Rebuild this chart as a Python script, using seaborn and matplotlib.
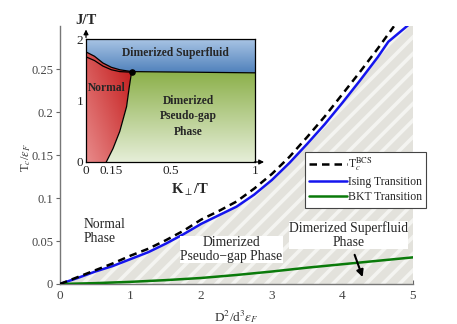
import numpy as np
import matplotlib
matplotlib.use('Agg')
from matplotlib import pyplot as plt
from matplotlib.patches import Polygon
import seaborn as sns

# main panel: transition temperatures vs D^2/(d^3 eps_F)
x_bcs = [0, 0.25, 0.5, 0.75, 1, 1.25, 1.5, 1.75, 2, 2.25, 2.5, 2.75, 3, 3.25, 3.5, 3.75, 4, 4.25, 4.5, 4.73]
t_bcs = [0, 0.008, 0.016, 0.024, 0.033, 0.041, 0.051, 0.062, 0.075, 0.085, 0.096, 0.111, 0.128, 0.148,
         0.171, 0.195, 0.221, 0.247, 0.274, 0.300]
x_ising = [0, 0.25, 0.5, 0.75, 1, 1.25, 1.5, 1.75, 2, 2.25, 2.5, 2.75, 3, 3.25, 3.5, 3.75, 4, 4.25, 4.5, 4.65, 5]
t_ising = [0, 0.007, 0.0145, 0.021, 0.029, 0.037, 0.047, 0.058, 0.070, 0.080, 0.090, 0.104, 0.121, 0.141,
           0.163, 0.186, 0.211, 0.237, 0.264, 0.282, 0.306]
x_bkt = [0, 0.5, 1, 1.5, 2, 2.5, 3, 3.5, 4, 4.5, 5]
t_bkt = [0, 0.001, 0.0025, 0.0045, 0.007, 0.0105, 0.0145, 0.019, 0.023, 0.027, 0.031]
y_ticks = [0, 0.05, 0.1, 0.15, 0.2, 0.25]
y_tick_labels = ['0', '0.05', '0.1', '0.15', '0.2', '0.25']

# inset: phase diagram in (K_perp/T, J/T)
upper_k = [0, 0.05, 0.10, 0.15, 0.20, 0.27]
upper_j = [1.79, 1.72, 1.61, 1.54, 1.50, 1.47]
lower_k = [0, 0.05, 0.10, 0.15, 0.20, 0.27]
lower_j = [1.71, 1.65, 1.56, 1.50, 1.47, 1.46]
edge_k = [0.12, 0.16, 0.20, 0.24, 0.255, 0.27]
edge_j = [0, 0.22, 0.5, 0.9, 1.2, 1.47]
flat_k = [0.27, 1]
flat_j = [1.47, 1.45]
inset_xticks = [0, 0.15, 0.5, 1]
inset_xlabels = ['0', '0.15', '0.5', '1']

sns.set_style('ticks')
plt.rcParams['font.family'] = ['Liberation Serif', 'DejaVu Serif']
plt.rcParams['mathtext.fontset'] = 'stix'
plt.rcParams['hatch.linewidth'] = 2.6

fig = plt.figure(figsize=(4.57, 3.24), dpi=100)
ax = fig.add_axes([0.1313, 0.1235, 0.7724, 0.7953])

# hatched region below the Ising line
ax.fill_between(x_ising, 0, t_ising, facecolor='#e3e2dc', edgecolor='#f4f4f1', hatch='//', linewidth=0, zorder=1)

sns.lineplot(x=x_ising, y=t_ising, ax=ax, color='#1515ee', lw=1.8, zorder=3, sort=False)
sns.lineplot(x=x_bcs, y=t_bcs, ax=ax, color='black', lw=1.8, linestyle=(0, (3, 2)), zorder=4, sort=False)
sns.lineplot(x=x_bkt, y=t_bkt, ax=ax, color='#0a7a0a', lw=1.8, zorder=3, sort=False)

ax.set_xlim(0, 5)
ax.set_ylim(0, 0.30)
ax.set_yticks(y_ticks)
ax.set_yticklabels(y_tick_labels)
ax.set_xticks([0, 1, 2, 3, 4, 5])
ax.tick_params(axis='y', direction='out', length=3, width=0.8, colors='#666666', labelcolor='#444444',
               labelsize=9, pad=2)
ax.tick_params(axis='x', direction='in', length=3, width=0.8, colors='#666666', labelcolor='#444444',
               labelsize=9.5, pad=4)
for s in ['top', 'right']:
    ax.spines[s].set_visible(False)
for s in ['left', 'bottom']:
    ax.spines[s].set_color('#777777')
    ax.spines[s].set_linewidth(1)

ax.set_ylabel(r'T$_c$/$\varepsilon_F$', fontsize=9, color='#333333')
ax.yaxis.set_label_coords(-0.077, 0.49)
ax.set_xlabel(r'D$^2$/d$^3\varepsilon_F$', fontsize=9.5, color='#333333')
ax.xaxis.set_label_coords(0.5, -0.095)

ax.text(0.33, 0.061, 'Normal\nPhase', fontsize=9.8, ha='left', va='center', linespacing=1.15, zorder=5)
ax.text(2.43, 0.040, 'Dimerized\nPseudo\u2212gap Phase', fontsize=9.8, ha='center', va='center',
        linespacing=1.1, zorder=5, bbox=dict(facecolor='white', edgecolor='none', pad=0.1))
ax.text(4.09, 0.057, 'Dimerized Superfluid\nPhase', fontsize=9.8, ha='center', va='center',
        linespacing=1.1, zorder=5, bbox=dict(facecolor='white', edgecolor='none', pad=0.1))
ax.annotate('', xy=(4.30, 0.005), xytext=(4.16, 0.037),
            arrowprops=dict(arrowstyle='-|>', color='black', lw=1.5, mutation_scale=10), zorder=6)

handles = ax.get_lines()
leg = ax.legend([handles[1], handles[0], handles[2]],
                [r'T$_c^{\rm BCS}$', 'Ising Transition', 'BKT Transition'],
                loc='upper left', bbox_to_anchor=(0.694, 0.512), fontsize=8.5, frameon=True,
                fancybox=False, framealpha=1, edgecolor='#444444', handlelength=3.2,
                handletextpad=0.1, borderpad=0.35, labelspacing=0.25, borderaxespad=0)
leg.get_frame().set_linewidth(0.8)
leg.set_zorder(7)

# inset phase diagram
axi = fig.add_axes([0.1882, 0.5, 0.3698, 0.3796])
axi.set_facecolor('white')


def gradient_region(axis, verts, rgb_fn):
    poly = Polygon(verts, closed=True, facecolor='none', edgecolor='none')
    axis.add_patch(poly)
    kk, jj = np.meshgrid(np.linspace(0, 1, 200), np.linspace(0, 2, 200))
    img = axis.imshow(rgb_fn(kk, jj), extent=[0, 1, 0, 2], origin='lower', aspect='auto',
                      interpolation='bilinear', zorder=1)
    img.set_clip_path(poly)


def mix(c1, c2, t):
    c1 = np.array(matplotlib.colors.to_rgb(c1))
    c2 = np.array(matplotlib.colors.to_rgb(c2))
    t = np.clip(t, 0, 1)[..., None]
    return c1 * (1 - t) + c2 * t


blue_verts = [(0, 2), (1, 2), (flat_k[1], flat_j[1])] + list(zip(upper_k, upper_j))[::-1]
red_verts = [(0, 0)] + list(zip(edge_k, edge_j)) + list(zip(upper_k, upper_j))[::-1]
green_verts = [(edge_k[0], 0), (1, 0), (flat_k[1], flat_j[1])] + list(zip(edge_k, edge_j))[::-1]

gradient_region(axi, blue_verts, lambda k, j: mix('#4f80bb', '#a8c4e4', (j - 1.45) / 0.55))
gradient_region(axi, red_verts, lambda k, j: mix('#e88a8a', '#c41c1c', 0.55 * k / 0.27 + 0.45 * j / 1.6))
gradient_region(axi, green_verts, lambda k, j: mix('#e6eed8', '#8db14c', j / 1.45))

for kx, jy in [(upper_k, upper_j), (lower_k, lower_j), (edge_k, edge_j), (flat_k, flat_j)]:
    sns.lineplot(x=kx, y=jy, ax=axi, color='black', lw=0.9, zorder=3, sort=False)
axi.scatter([upper_k[-1]], [upper_j[-1]], s=14, color='black', zorder=4)

axi.set_xlim(0, 1)
axi.set_ylim(0, 2)
axi.set_xticks(inset_xticks)
axi.set_xticklabels(inset_xlabels)
axi.set_yticks([0, 1, 2])
axi.tick_params(direction='in', length=2.5, width=0.8, labelsize=9.5, colors='black', labelcolor='#222222', pad=2)
for s in axi.spines.values():
    s.set_color('black')
    s.set_linewidth(0.9)
axi.annotate('', xy=(1.07, 0), xytext=(0.98, 0), xycoords='data',
             arrowprops=dict(arrowstyle='-|>', color='black', lw=0.9, mutation_scale=7), annotation_clip=False)
axi.annotate('', xy=(0, 2.2), xytext=(0, 1.98), xycoords='data',
             arrowprops=dict(arrowstyle='-|>', color='black', lw=0.9, mutation_scale=7), annotation_clip=False)

axi.text(0.0, 2.3, 'J/T', fontsize=10.5, fontweight='bold', ha='center', va='center', clip_on=False)
axi.text(0.615, -0.46, r'K$_{\perp}$/T', fontsize=10.5, fontweight='bold', ha='center', va='center', clip_on=False)
axi.text(0.53, 1.77, 'Dimerized Superfluid', fontsize=8.3, fontweight='bold', ha='center', va='center', zorder=5)
axi.text(0.12, 1.2, 'Normal', fontsize=8.3, fontweight='bold', ha='center', va='center', zorder=5)
axi.text(0.605, 0.74, 'Dimerized\nPseudo-gap\nPhase', fontsize=8.3, fontweight='bold', ha='center',
         va='center', linespacing=1.35, zorder=5)

fig.savefig('out.png', dpi=100)
